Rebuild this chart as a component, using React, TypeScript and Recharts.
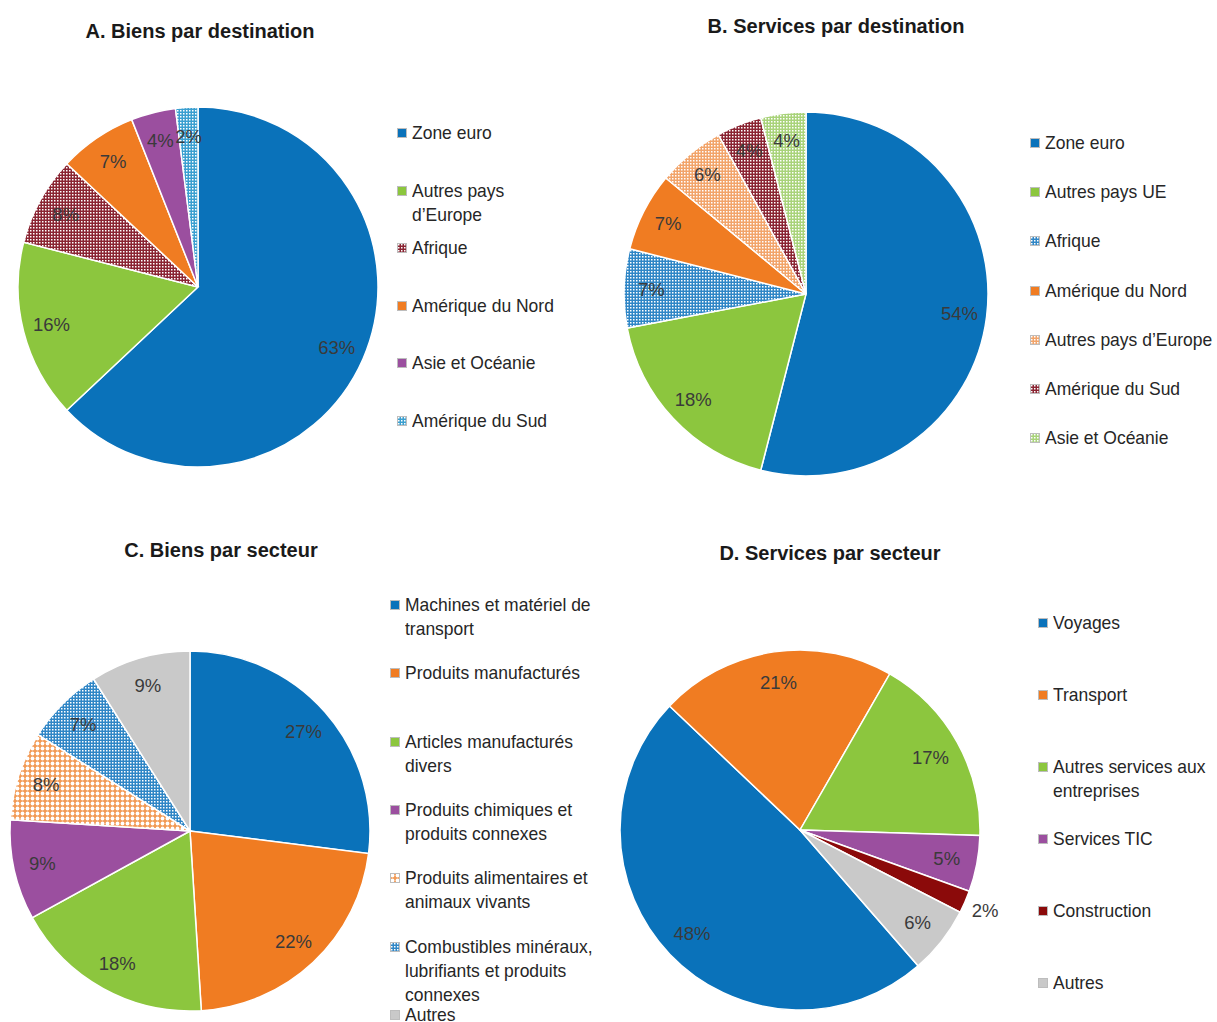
import React from 'react';
import { PieChart, Pie, Cell } from 'recharts';

// A. Biens par destination
const goodsDestLabels = ['Zone euro', 'Autres pays\nd’Europe', 'Afrique', 'Amérique du Nord', 'Asie et Océanie', 'Amérique du Sud'];
const goodsDestShares = [63, 16, 8, 7, 4, 2];
const goodsDestFills = ['#0a72ba', '#8cc63e', 'url(#dots-maroon)', '#f07c22', '#9b4f9f', 'url(#dots-sky)'];

// B. Services par destination
const servDestLabels = ['Zone euro', 'Autres pays UE', 'Afrique', 'Amérique du Nord', 'Autres pays d’Europe', 'Amérique du Sud', 'Asie et Océanie'];
const servDestShares = [54, 18, 7, 7, 6, 4, 4];
const servDestFills = ['#0a72ba', '#8cc63e', 'url(#dots-blue)', '#f07c22', 'url(#dots-peach)', 'url(#dots-maroon)', 'url(#dots-lime)'];

// C. Biens par secteur
const goodsSectorLabels = [
  'Machines et matériel de\ntransport',
  'Produits manufacturés',
  'Articles manufacturés\ndivers',
  'Produits chimiques et\nproduits connexes',
  'Produits alimentaires et\nanimaux vivants',
  'Combustibles minéraux,\nlubrifiants et produits\nconnexes',
  'Autres',
];
const goodsSectorShares = [27, 22, 18, 9, 8, 7, 9];
const goodsSectorFills = ['#0a72ba', '#f07c22', '#8cc63e', '#9b4f9f', 'url(#lattice-orange)', 'url(#dots-blue)', '#c9c9c9'];

// D. Services par secteur
const servSectorLabels = ['Voyages', 'Transport', 'Autres services aux\nentreprises', 'Services TIC', 'Construction', 'Autres'];
const servSectorShares = [48, 21, 17, 5, 2, 6];
const servSectorFills = ['#0a72ba', '#f07c22', '#8cc63e', '#9b4f9f', '#8b0a0a', '#c9c9c9'];

const FONT = '"Liberation Sans", Arial, sans-serif';
const RAD = Math.PI / 180;
const PAD = 40;

interface Panel {
  title: string;
  labels: string[];
  shares: number[];
  fills: string[];
  cx: number;
  cy: number;
  r: number;
  start: number;
  titleX: number;
  titleY: number;
  legendX: number;
  legendTop: number;
  slot: number;
  labelR: number;
  outsideBelow?: number;
}

const panels: Panel[] = [
  {
    title: 'A. Biens par destination', labels: goodsDestLabels, shares: goodsDestShares, fills: goodsDestFills,
    cx: 198, cy: 287, r: 180, start: 90, titleX: 200, titleY: 31,
    legendX: 397, legendTop: 121, slot: 57.6, labelR: 0.84,
  },
  {
    title: 'B. Services par destination', labels: servDestLabels, shares: servDestShares, fills: servDestFills,
    cx: 806, cy: 294, r: 182, start: 90, titleX: 836, titleY: 26,
    legendX: 1030, legendTop: 131, slot: 49.2, labelR: 0.85,
  },
  {
    title: 'C. Biens par secteur', labels: goodsSectorLabels, shares: goodsSectorShares, fills: goodsSectorFills,
    cx: 190, cy: 831, r: 180, start: 90, titleX: 221, titleY: 550,
    legendX: 390, legendTop: 593, slot: 68.3, labelR: 0.84,
  },
  {
    title: 'D. Services par secteur', labels: servSectorLabels, shares: servSectorShares, fills: servSectorFills,
    cx: 800, cy: 830, r: 180, start: -49, titleX: 830, titleY: 553,
    legendX: 1038, legendTop: 611, slot: 72, labelR: 0.83, outsideBelow: 3,
  },
];

function Patterns() {
  const dots = (id: string, color: string) => (
    <pattern id={id} width={3} height={3} patternUnits="userSpaceOnUse">
      <rect width={3} height={3} fill={color} />
      <rect x={1} y={1} width={1.5} height={1.5} fill="#fff" />
    </pattern>
  );
  return (
    <svg width={0} height={0} style={{ position: 'absolute' }}>
      <defs>
        {dots('dots-maroon', '#8a2432')}
        {dots('dots-sky', '#3a9fd0')}
        {dots('dots-blue', '#2f86c6')}
        {dots('dots-peach', '#f2a46a')}
        {dots('dots-lime', '#a9d37a')}
        <pattern id="lattice-orange" width={5} height={5} patternUnits="userSpaceOnUse">
          <rect width={5} height={5} fill="#f29a55" />
          <circle cx={2.5} cy={2.5} r={1.9} fill="#fff" />
        </pattern>
      </defs>
    </svg>
  );
}

function PiePanel({ p }: { p: Panel }) {
  const data = p.labels.map((label, i) => ({ name: label.replace(/\n/g, ' '), value: p.shares[i] }));
  const size = 2 * p.r + 2 * PAD;

  const renderLabel = (props: any) => {
    const { cx, cy, midAngle, outerRadius, index } = props;
    const v = p.shares[index];
    const outside = p.outsideBelow !== undefined && v < p.outsideBelow;
    const rr = outside ? outerRadius + 22 : outerRadius * p.labelR;
    const x = cx + rr * Math.cos(-midAngle * RAD);
    const y = cy + rr * Math.sin(-midAngle * RAD);
    return (
      <text x={x} y={y} textAnchor="middle" dominantBaseline="central" fill="#3a3a3a" fontSize={18.5} fontFamily={FONT}>
        {`${v}%`}
      </text>
    );
  };

  return (
    <>
      <div
        style={{
          position: 'absolute', left: p.titleX - 200, top: p.titleY - 14, width: 400, textAlign: 'center',
          fontSize: 20, fontWeight: 'bold', color: '#1a1a1a', lineHeight: '28px',
        }}
      >
        {p.title}
      </div>
      <div style={{ position: 'absolute', left: p.cx - p.r - PAD, top: p.cy - p.r - PAD }}>
        <PieChart width={size} height={size}>
          <Pie
            data={data}
            dataKey="value"
            nameKey="name"
            cx="50%"
            cy="50%"
            outerRadius={p.r}
            startAngle={p.start}
            endAngle={p.start - 360}
            stroke="#ffffff"
            strokeWidth={1.5}
            label={renderLabel}
            labelLine={false}
            isAnimationActive={false}
          >
            {data.map((d, i) => (
              <Cell key={d.name} fill={p.fills[i]} />
            ))}
          </Pie>
        </PieChart>
      </div>
      {p.labels.map((label, i) => (
        <div
          key={label}
          style={{
            position: 'absolute', left: p.legendX, top: p.legendTop + i * p.slot,
            display: 'flex', alignItems: 'flex-start', fontSize: 19, lineHeight: '24px', color: '#262626',
          }}
        >
          <svg width={10} height={10} style={{ marginTop: 7, marginRight: 5, flexShrink: 0 }}>
            <rect x={0.5} y={0.5} width={9} height={9} fill={p.fills[i]} stroke="#bdbdbd" strokeWidth={1} />
          </svg>
          <span style={{ whiteSpace: 'pre', display: 'inline-block', transform: 'scaleX(0.92)', transformOrigin: 'left top' }}>
            {label}
          </span>
        </div>
      ))}
    </>
  );
}

export default function App() {
  return (
    <div
      style={{
        position: 'absolute', left: 0, top: 0, width: 1217, height: 1022, background: '#fff',
        fontFamily: FONT, overflow: 'hidden',
      }}
    >
      <Patterns />
      {panels.map(p => (
        <PiePanel key={p.title} p={p} />
      ))}
    </div>
  );
}
